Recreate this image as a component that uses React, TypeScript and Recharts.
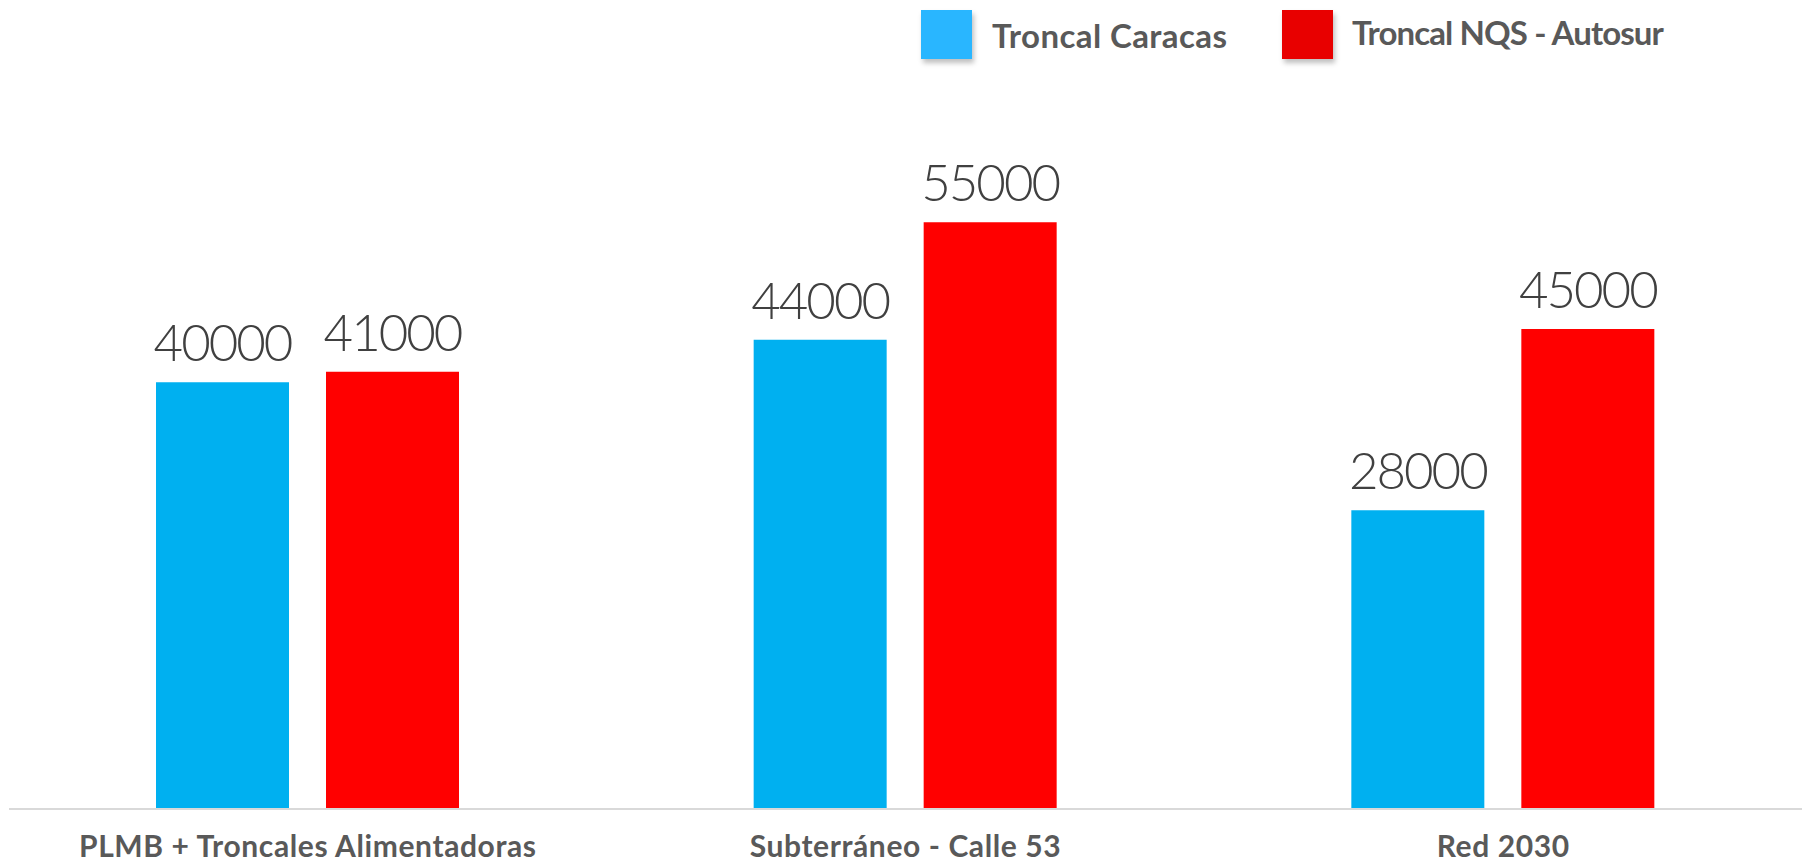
import React from "react";
import { BarChart, Bar, XAxis, YAxis, LabelList, Legend } from "recharts";

const categories = ["PLMB + Troncales Alimentadoras", "Subterráneo - Calle 53", "Red 2030"];
const troncalCaracas = [40000, 44000, 28000];
const troncalNQS = [41000, 55000, 45000];
const seriesNames = ["Troncal Caracas", "Troncal NQS - Autosur"];

const data = categories.map((c, i) => ({
  name: c,
  caracas: troncalCaracas[i],
  nqs: troncalNQS[i],
}));

const legendText: React.CSSProperties = {
  position: "absolute",
  fontFamily: "Lato",
  fontWeight: 700,
  fontSize: 33,
  lineHeight: "33px",
  color: "#595959",
  whiteSpace: "nowrap",
};

const LegendContent = () => (
  <div style={{ position: "relative", width: 1808, height: 70 }}>
    <div style={{ position: "absolute", left: 921, top: 10, width: 51, height: 49, background: "#29B6FF", boxShadow: "2px 4px 5px rgba(0,0,0,0.25)" }} />
    <div style={{ ...legendText, left: 992, top: 19, letterSpacing: 0.4 }}>{seriesNames[0]}</div>
    <div style={{ position: "absolute", left: 1282, top: 10, width: 51, height: 49, background: "#E80000", boxShadow: "2px 4px 5px rgba(0,0,0,0.25)" }} />
    <div style={{ ...legendText, left: 1352, top: 16, letterSpacing: -0.9 }}>{seriesNames[1]}</div>
  </div>
);

const valueLabelStyle = { fill: "#404040", fontFamily: "Lato", fontWeight: 300, fontSize: 51, letterSpacing: -2 };

export default function App() {
  return (
    <div style={{ position: "absolute", left: 0, top: 0, width: 1808, height: 862, background: "#fff" }}>
      <BarChart
        width={1808}
        height={862}
        data={data}
        margin={{ top: 99, right: 6, bottom: 0, left: 9 }}
        barSize={133}
        barGap={37}
      >
        <XAxis
          dataKey="name"
          height={53}
          tickLine={false}
          axisLine={{ stroke: "#d9d9d9", strokeWidth: 2 }}
          tick={{ fill: "#595959", fontFamily: "Lato", fontWeight: 700, fontSize: 30, letterSpacing: 0.6 }}
          dy={19}
          interval={0}
        />
        <YAxis hide domain={[0, 60000]} />
        <Legend verticalAlign="top" align="left" wrapperStyle={{ position: "absolute", left: 0, top: 0 }} content={<LegendContent />} />
        <Bar dataKey="caracas" fill="#00B0F0" isAnimationActive={false}>
          <LabelList dataKey="caracas" position="top" offset={21} style={valueLabelStyle} />
        </Bar>
        <Bar dataKey="nqs" fill="#FF0000" isAnimationActive={false}>
          <LabelList dataKey="nqs" position="top" offset={21} style={valueLabelStyle} />
        </Bar>
      </BarChart>
    </div>
  );
}
